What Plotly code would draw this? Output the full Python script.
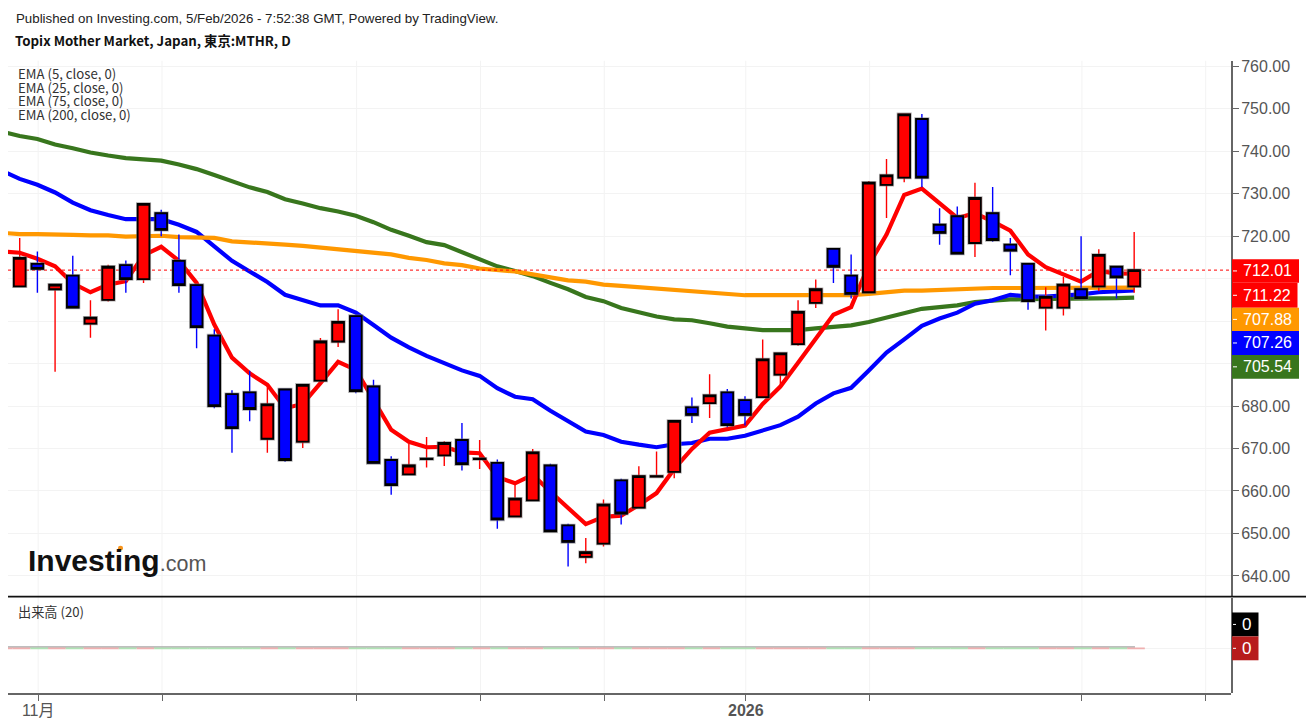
import pandas as pd
import plotly.graph_objects as go

W, H = 1306, 727

holidays = ["2025-11-03", "2025-11-24", "2025-12-31", "2026-01-01", "2026-01-02",
            "2026-01-12", "2026-02-11"]
all_days = [d.strftime("%Y-%m-%d") for d in pd.bdate_range("2025-10-30", "2026-02-20")]
categories = [d for d in all_days if d not in holidays]
candle_days = categories[1:65]
ema_days = categories[0:65]

opens = [708.2,713.5,707.5,710.7,699.4,705.0,713.2,709.9,725.4,714.2,708.5,696.6,682.8,683.2,672.3,683.9,
         671.6,686.0,695.2,701.2,684.6,667.3,663.9,667.5,668.4,672.0,667.5,666.6,654.0,657.8,666.0,651.9,
         644.5,647.6,662.5,656.1,663.4,664.5,679.7,680.7,683.2,681.4,682.1,687.4,694.6,704.3,717.0,710.7,
         706.8,732.1,733.8,747.6,722.7,724.7,718.4,725.4,718.0,713.5,703.2,703.2,707.5,708.2,712.8,708.2]
highs = [719.6,716.4,708.7,715.4,704.9,713.3,714.3,727.7,726.2,720.4,708.6,698.1,683.7,688.3,684.4,684.0,
         685.0,696.0,702.8,701.3,686.2,668.2,671.1,672.7,671.7,676.0,672.0,667.4,661.5,669.9,666.4,652.3,
         648.9,658.0,662.9,665.8,669.3,676.7,682.0,687.5,684.0,682.3,695.7,692.4,704.9,709.8,717.0,715.7,
         733.0,738.2,748.7,748.8,726.6,727.0,732.6,731.6,719.6,713.5,708.0,710.4,720.0,716.9,712.8,721.0]
lows = [708.2,706.7,688.1,703.2,696.1,704.6,706.7,709.0,720.0,706.7,693.6,679.5,669.0,676.4,669.0,666.9,
        670.1,686.0,693.9,683.0,666.6,659.1,663.9,665.5,665.9,664.8,665.2,651.1,654.0,657.7,650.5,642.2,
        643.0,646.9,652.1,656.0,663.4,663.0,676.0,677.2,675.0,675.4,682.0,685.2,694.2,703.1,709.0,705.3,
        706.7,724.3,732.7,731.5,718.0,715.9,715.1,718.7,710.8,702.7,697.8,701.3,705.4,707.1,705.3,706.7]
closes = [714.9,712.3,708.6,703.2,700.8,712.8,709.9,727.6,721.5,708.5,698.6,680.0,674.8,679.3,680.4,667.3,
          685.0,695.2,699.8,683.5,666.6,661.4,666.0,667.6,671.3,666.3,667.6,653.3,658.2,669.1,650.5,648.0,
          645.6,656.8,654.7,663.5,663.5,676.5,677.9,682.5,675.5,677.9,691.0,692.4,702.2,707.5,712.8,706.4,
          732.6,734.3,748.7,733.8,720.8,715.9,729.0,719.1,716.6,704.7,705.7,708.6,705.4,715.6,710.3,712.01]

ema5 = [716.4,716.1,714.7,712.9,708.9,706.8,708.6,709.4,715.5,717.5,714.2,709.0,699.2,691.4,687.7,685.0,679.5,
        680.5,685.4,690.4,688.5,681.3,674.4,671.6,670.3,670.4,669.1,668.9,663.3,661.8,663.8,659.8,655.9,
        652.2,653.9,654.2,656.7,659.5,665.2,669.9,673.7,674.5,675.4,680.5,684.6,690.2,696.0,701.5,703.3,
        713.3,720.4,729.7,731.2,727.8,724.3,725.4,723.5,721.3,715.7,712.7,711.1,709.3,711.8,711.2,711.22]
ema25 = [735.4,733.5,732.1,730.3,727.9,726.1,725.0,724.0,724.0,724.0,722.7,721.0,717.6,714.2,711.7,709.2,706.2,
         704.9,703.7,703.7,702.0,699.1,696.1,693.8,691.8,690.1,688.4,687.1,684.2,682.2,681.6,678.9,676.4,
         674.0,673.2,671.6,670.9,670.3,671.0,671.3,672.3,672.3,673.0,674.2,675.5,677.5,680.6,683.0,684.3,
         688.4,692.6,695.7,698.9,700.6,702.0,704.1,704.9,706.2,705.8,705.8,706.0,706.3,706.8,707.0,707.26]
ema75 = [720.8,720.5,720.5,720.5,720.3,720.2,720.2,719.9,720.1,720.1,719.8,719.8,719.6,718.8,718.6,718.3,718.0,
         717.7,717.3,717.1,716.7,716.1,715.7,714.9,714.4,713.6,713.2,712.4,712.0,711.7,711.0,710.4,709.6,
         709.3,708.6,708.3,708.0,707.7,707.4,706.9,706.8,706.4,706.1,706.1,706.1,706.1,706.1,706.1,706.1,
         706.4,706.8,707.2,707.2,707.4,707.4,707.8,707.8,707.8,707.8,707.8,707.8,707.8,707.9,707.9,707.88]
ema200 = [744.6,743.6,742.9,741.6,740.7,739.7,739.0,738.4,738.1,737.8,736.9,735.8,734.4,732.9,731.5,730.4,728.7,
          727.7,726.6,725.8,724.8,723.3,721.5,720.1,718.6,717.9,716.3,714.7,712.9,711.8,710.6,709.0,707.5,
          705.7,704.7,703.1,702.1,701.1,700.4,700.2,699.5,698.7,698.3,697.9,697.9,697.9,698.3,698.6,699.0,
          699.8,700.9,701.8,702.9,703.3,703.7,704.5,704.9,705.1,705.2,705.2,705.2,705.2,705.4,705.4,705.54]
volume = [0] * 64
volume_ma = [0] * 65

price_ticks = [760, 750, 740, 730, 720, 710, 700, 690, 680, 670, 660, 650, 640]
covered_ticks = [710, 700, 690]  # their labels sit behind the value tags in the reference
time_tick_days = ["2025-11-04", "2025-11-13", "2025-12-01", "2025-12-10", "2025-12-19",
                  "2026-01-05", "2026-01-15", "2026-02-02", "2026-02-12"]
time_tick_labels = ["11月", "", "", "", "", "<b>2026</b>", "", "", ""]
legend_lines = ["EMA (5, close, 0)", "EMA (25, close, 0)", "EMA (75, close, 0)", "EMA (200, close, 0)"]

RED, BLUE, ORANGE, GREEN = "#ff0000", "#0000ff", "#ff9800", "#38761d"
SANS = "Liberation Sans, Arial, sans-serif"
CJK = "Noto Sans CJK JP, Noto Sans, sans-serif"
GRID = "#f3f3f3"
AXIS = "#666666"


def px(v):
    return v / W


def py(v):
    return 1 - v / H


LEFT, RIGHT = 8, 1231
MAIN_TOP, MAIN_BOTTOM = 58, 595.5
VOL_TOP, VOL_BOTTOM = 597, 692.5
BAR_PX = 17.69


def slot(pixel):
    return 1 + (pixel - 19) / BAR_PX


xrange_main = [slot(LEFT - 0.7), slot(RIGHT - 0.7)]
xrange_vol = [slot(LEFT - 1.5), slot(RIGHT - 1.5)]
xrange_dash = [slot(LEFT - 2.5) + 0.5, slot(RIGHT - 2.5) + 0.5]

fig = go.Figure()

for values, color in [(ema200, GREEN), (ema25, BLUE), (ema75, ORANGE), (ema5, RED)]:
    fig.add_trace(go.Scatter(x=ema_days, y=values, mode="lines", xaxis="x", yaxis="y",
                             line=dict(color=color, width=4.2), showlegend=False))
fig.add_trace(go.Scatter(x=[categories[0], categories[-1]], y=[closes[-1], closes[-1]], mode="lines",
                         xaxis="x", yaxis="y", line=dict(color=RED, width=1, dash="dot"), showlegend=False))

body_high = [max(o, c) for o, c in zip(opens, closes)]
body_low = [min(o, c) for o, c in zip(opens, closes)]

# wicks in the body colour, then a soft halo, then the black-edged bodies
fig.add_trace(go.Candlestick(x=candle_days, open=opens, high=highs, low=lows, close=closes,
                             xaxis="x3", yaxis="y3", showlegend=False, whiskerwidth=0,
                             increasing=dict(line=dict(color=RED, width=1.4), fillcolor=RED),
                             decreasing=dict(line=dict(color=BLUE, width=1.4), fillcolor=BLUE)))
fig.add_trace(go.Candlestick(x=candle_days, open=opens, high=body_high, low=body_low, close=closes,
                             xaxis="x3", yaxis="y3", showlegend=False,
                             increasing=dict(line=dict(color="rgba(110,110,110,0.55)", width=3.4), fillcolor=RED),
                             decreasing=dict(line=dict(color="rgba(110,110,110,0.55)", width=3.4), fillcolor=BLUE)))
fig.add_trace(go.Candlestick(x=candle_days, open=opens, high=body_high, low=body_low, close=closes,
                             xaxis="x3", yaxis="y3", showlegend=False,
                             increasing=dict(line=dict(color="#000000", width=1.8), fillcolor=RED),
                             decreasing=dict(line=dict(color="#000000", width=1.8), fillcolor=BLUE)))


# volume pane: one flat dash per session, tinted by direction
def dashes(is_up):
    xs, ys = [], []
    if is_up:
        xs += [categories[0], categories[1], None]
        ys += [volume_ma[0], volume_ma[0], None]
    for i, (o, c, v) in enumerate(zip(opens, closes, volume)):
        if (c >= o) == is_up:
            xs += [candle_days[i], categories[i + 2], None]
            ys += [v, v, None]
    return xs, ys


for is_up, color in [(True, "#efb0b0"), (False, "#b0e2b4")]:
    dx, dy = dashes(is_up)
    fig.add_trace(go.Scatter(x=dx, y=dy, mode="lines", xaxis="x5", yaxis="y2", showlegend=False,
                             connectgaps=False, line=dict(color=color, width=1.6)))
fig.add_trace(go.Scatter(x=ema_days, y=volume_ma, mode="lines", xaxis="x2", yaxis="y4", showlegend=False,
                         line=dict(color="#a8a8a8", width=1.5)))

y_per_px = 1 / 4.264
grid_760_px = 63.6
main_range = [760 - (MAIN_BOTTOM - grid_760_px) * y_per_px, 760 + (grid_760_px - MAIN_TOP) * y_per_px]
vol_range = [-(VOL_BOTTOM - 648), 648 - VOL_TOP]

common_cat = dict(type="category", categoryorder="array", categoryarray=categories)

fig.update_layout(
    width=W, height=H, margin=dict(l=0, r=0, t=0, b=0), paper_bgcolor="white", plot_bgcolor="rgba(0,0,0,0)",
    showlegend=False, boxmode="overlay", boxgap=0.34, boxgroupgap=0, hovermode=False,
    xaxis=dict(domain=[px(LEFT), px(RIGHT)], range=xrange_main, anchor="y", showgrid=False, zeroline=False,
               showticklabels=False, ticks="", rangeslider=dict(visible=False), **common_cat),
    yaxis=dict(domain=[py(MAIN_BOTTOM), py(MAIN_TOP)], range=main_range, side="right", anchor="x",
               tickmode="array", tickvals=price_ticks,
               ticktext=["" if v in covered_ticks else f"{v:.2f}" for v in price_ticks],
               tickfont=dict(family=SANS, size=16, color="#555555"), ticks="outside", ticklen=6, tickwidth=1,
               tickcolor=AXIS, showline=True, linecolor=AXIS, linewidth=2, gridcolor=GRID, gridwidth=1,
               zeroline=False, ticklabelstandoff=-1),
    xaxis3=dict(overlaying="x", range=xrange_main, anchor="y3", visible=False,
                rangeslider=dict(visible=False), showgrid=False, **common_cat),
    yaxis3=dict(overlaying="y", range=main_range, anchor="x3", visible=False, showgrid=False),
    xaxis2=dict(domain=[px(LEFT), px(RIGHT)], range=xrange_vol, anchor="y2", showgrid=False, zeroline=False,
                showline=True, linecolor=AXIS, linewidth=2, ticks="outside", ticklen=6, tickwidth=1,
                tickcolor=AXIS, tickmode="array", tickvals=time_tick_days, ticktext=time_tick_labels,
                tickangle=0, tickfont=dict(family=SANS + ", Noto Sans CJK JP", size=16, color="#555555"),
                ticklabelstandoff=-4, **common_cat),
    xaxis5=dict(overlaying="x2", range=xrange_dash, anchor="y2", visible=False, showgrid=False, **common_cat),
    yaxis2=dict(domain=[py(VOL_BOTTOM), py(VOL_TOP)], range=vol_range, side="right", anchor="x2",
                tickmode="array", tickvals=[0], ticktext=[""], ticks="", showline=True, linecolor=AXIS,
                linewidth=2, gridcolor=GRID, zeroline=False),
    yaxis4=dict(domain=[py(VOL_BOTTOM - 1.4), py(VOL_TOP - 1.4)], range=vol_range, anchor="x2", visible=False,
                showgrid=False),
)

shapes = []
for day in time_tick_days:
    shapes.append(dict(type="line", xref="x2", yref="paper", x0=day, x1=day, y0=py(VOL_BOTTOM), y1=py(MAIN_TOP),
                       line=dict(color=GRID, width=1), layer="below"))
shapes.append(dict(type="line", xref="paper", yref="paper", x0=px(LEFT), x1=1, y0=py(596), y1=py(596),
                   line=dict(color="#111111", width=1.7)))
shapes.append(dict(type="circle", xref="paper", yref="paper", x0=px(118), x1=px(123), y0=py(550), y1=py(545),
                   fillcolor="#f7941d", line=dict(width=0)))

tags = [(closes[-1], RED, 257.3, 280.8, 1299), (ema5[-1], RED, 281, 306, 1297.5), (ema75[-1], ORANGE, 306, 329.4, 1299),
        (ema25[-1], BLUE, 329.4, 353.4, 1299), (ema200[-1], GREEN, 353.4, 377.3, 1299)]
annotations = []


def note(text, x, y, size, family=CJK, color="#222222", anchor="left"):
    annotations.append(dict(text=text, x=px(x), y=py(y), xref="paper", yref="paper", xanchor=anchor, yanchor="middle",
                            showarrow=False, align="left", borderpad=0,
                            font=dict(family=family, size=size, color=color)))


for value, color, top, bottom, right in tags:
    shapes.append(dict(type="rect", xref="paper", yref="paper", x0=px(1232), x1=px(right), y0=py(bottom), y1=py(top),
                       fillcolor=color, line=dict(width=0)))
    mid = (top + bottom) / 2
    shapes.append(dict(type="line", xref="paper", yref="paper", x0=px(1233), x1=px(1237), y0=py(mid), y1=py(mid),
                       line=dict(color="#ffffff", width=1)))
    note(f"{value:.2f}", 1242, mid, 16, SANS, "#ffffff")

for top, bottom, color in [(612, 636, "#000000"), (636, 660, "#b71c1c")]:
    shapes.append(dict(type="rect", xref="paper", yref="paper", x0=px(1232), x1=px(1258.5), y0=py(bottom), y1=py(top),
                       fillcolor=color, line=dict(width=0)))
    mid = (top + bottom) / 2
    shapes.append(dict(type="line", xref="paper", yref="paper", x0=px(1233), x1=px(1236), y0=py(mid), y1=py(mid),
                       line=dict(color="#ffffff", width=1)))
    note(f"{volume[-1]}", 1246.3, mid, 17, SANS, "#ffffff", "center")

note("Published on Investing.com, 5/Feb/2026 - 7:52:38 GMT, Powered by TradingView.", 15, 16, 13.3, SANS, "#222222")
note("<b>Topix Mother Market, Japan, 東京:MTHR, D</b>", 14, 37.5, 13.3, CJK, "#111111")
for line, y in zip(legend_lines, [71, 84.5, 98, 112]):
    note(line, 17, y, 13.2, CJK, "#333333")
note("出来高 (20)", 17, 611, 13.2, CJK, "#333333")
note('<b>Investing</b><span style="font-size:21.5px;color:#555555">.com</span>', 27, 560, 30, SANS, "#111111")

fig.update_layout(shapes=shapes, annotations=annotations)
fig.write_html("out.html", config=dict(displayModeBar=False),
               post_script="document.body.style.margin='0';document.body.style.overflow='hidden';")
